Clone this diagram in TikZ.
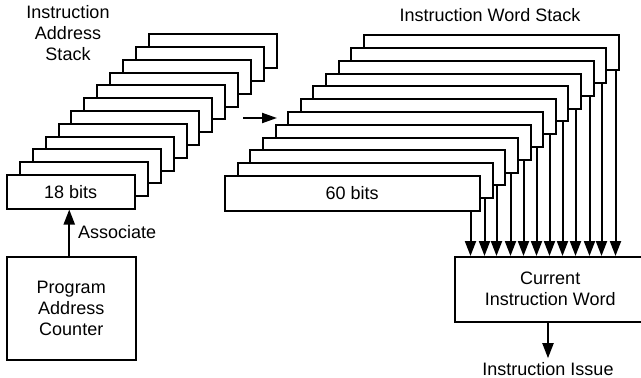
\documentclass[tikz,border=0pt]{standalone}
\usepackage{fontspec}
\setmainfont{Liberation Sans}
\usetikzlibrary{arrows.meta}
\begin{document}
\begin{tikzpicture}[x=1pt,y=-1pt,
  lbl/.style={font=\fontsize{18}{21}\selectfont, inner sep=0pt, align=center},
  boxline/.style={draw, fill=white, line width=1.5pt, inner sep=0pt, anchor=north west},
  abox/.style={boxline, lbl, minimum width=128pt, minimum height=34pt},
  wbox/.style={boxline, lbl, minimum width=255pt, minimum height=35pt},
  arr/.style={line width=2pt, -{Triangle[length=15pt,width=11pt]}},
]
\useasboundingbox (0,0) rectangle (641,378);
\path[clip] (0,0) rectangle (641,378);

% Instruction address stack
\foreach \k in {11,10,...,1} {
  \node[abox] (a\k) at ({round(6+12.9*\k)},{round(174-12.8*\k)}) {};
}
\node[abox] (a0) at (6,174) {18 bits};

% Instruction word stack
\foreach \k in {11,10,...,1} {
  \node[wbox] (w\k) at ({round(224+12.64*\k)},{round(175-12.8*\k)}) {};
}
\node[wbox] (w0) at (224,175) {60 bits};

% Labels
\node[lbl] (ias) at (68,33) {Instruction\\Address\\Stack};
\node[lbl] (iws) at (490,15) {Instruction Word Stack};

% Program address counter
\node[boxline, lbl, minimum width=129pt, minimum height=103pt] (pac) at (6,256) {Program\\Address\\Counter};
\coordinate (pa) at ([xshift=-2]pac.north);
\draw[arr] (pa) -- (pa |- a0.south);
\node[lbl, anchor=west] (assoc) at (78,232) {Associate};

% Arrow between stacks
\coordinate (h1) at (243,118);
\coordinate (h2) at (277,118);
\draw[line width=2pt, -{Triangle[length=15pt,width=10pt]}] (h1) -- (h2);

% Current instruction word
\node[boxline, lbl, minimum width=191pt, minimum height=65pt] (ciw) at (454,256) {Current\\Instruction Word};

\foreach \k in {0,...,11} {
  \coordinate (t\k) at ([xshift={round(-10+0.54*\k)}]w\k.south east);
  \draw[arr] (t\k) -- (t\k |- ciw.north);
}

% Instruction issue
\node[lbl] (iss) at (548,369) {Instruction Issue};
\draw[arr] (iss.north |- ciw.south) -- ([yshift=4pt]iss.north);
\end{tikzpicture}
\end{document}
